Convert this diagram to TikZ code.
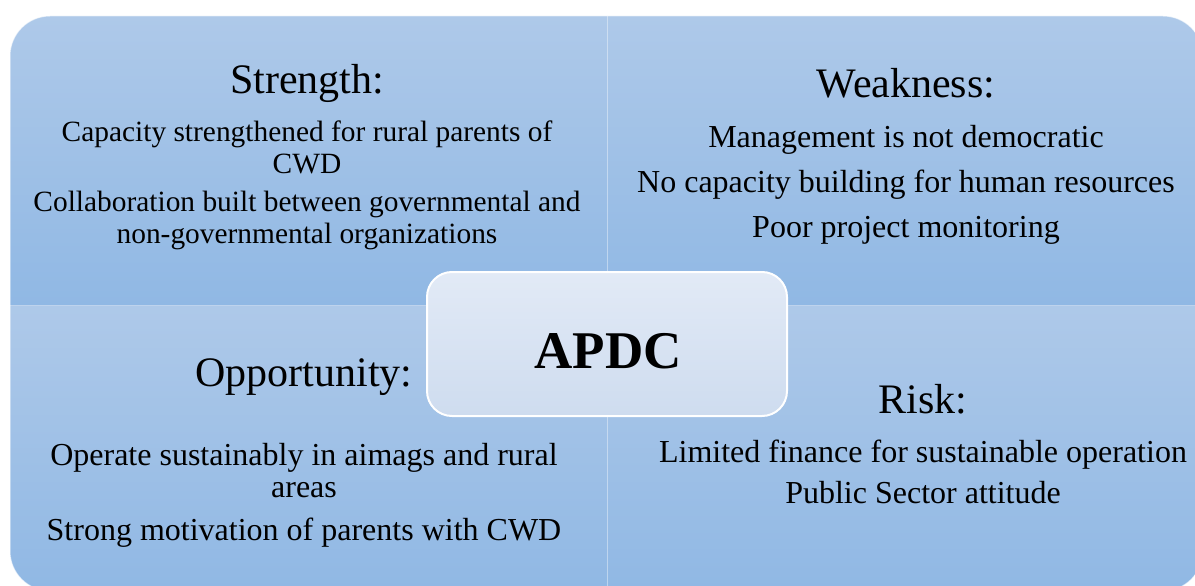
\documentclass[tikz,border=0pt]{standalone}
\usepackage{fontspec}
\setmainfont{Liberation Serif}
\definecolor{quadtop}{RGB}{174,201,233}
\definecolor{quadbot}{RGB}{144,184,228}
\definecolor{coretop}{RGB}{226,234,246}
\definecolor{corebot}{RGB}{206,220,239}
\begin{document}
\begin{tikzpicture}[x=1pt,y=-1pt,
  quad/.style={top color=quadtop, bottom color=quadbot, draw=none},
  divider/.style={draw=white, draw opacity=0.4, line width=1pt},
  head/.style={anchor=base, inner sep=0pt, font=\fontsize{42}{50}\selectfont},
  item/.style={anchor=base, inner sep=0pt, font=\fontsize{32}{38}\selectfont},
  smallitem/.style={anchor=base, inner sep=0pt, font=\fontsize{29.4}{35}\selectfont},
  corebox/.style={rounded corners=25pt, top color=coretop, bottom color=corebot,
    draw=white, line width=2pt, minimum width=360pt, minimum height=144pt},
  title/.style={anchor=base, inner sep=0pt, font=\fontsize{53}{60}\selectfont\bfseries}]
\useasboundingbox (0,0) rectangle (1195,586);

% four quadrants inside one rounded frame
\begin{scope}
  \clip[rounded corners=40pt] (10,16) rectangle (1203,591);
  \path[quad] (10,16) rectangle (607,305);
  \path[quad] (607,16) rectangle (1203,305);
  \path[quad] (10,305) rectangle (607,591);
  \path[quad] (607,305) rectangle (1203,591);
  \coordinate (vtop) at (607,16);
  \coordinate (vbot) at (607,591);
  \coordinate (hleft) at (10,305);
  \coordinate (hright) at (1203,305);
  \draw[divider] (vtop) -- (vbot);
  \draw[divider, draw opacity=0.2] (hleft) -- (hright);
\end{scope}
\draw[white, line width=1pt, opacity=0.6, rounded corners=40pt] (10,16) rectangle (1203,591);

% Strength
\node[head] (s0) at (307,93) {Strength:};
\node[smallitem] (s1) at (307,141) {Capacity strengthened for rural parents of};
\node[smallitem] (s2) at (307,173) {CWD};
\node[smallitem] (s3) at (307,211) {Collaboration built between governmental and};
\node[smallitem] (s4) at (307,243) {non-governmental organizations};

% Weakness
\node[head] (w0) at (906,97) {Weakness:};
\node[item] (w1) at (906,147) {Management is not democratic};
\node[item] (w2) at (906,192) {No capacity building for human resources};
\node[item] (w3) at (906,237) {Poor project monitoring};

% Opportunity
\node[head] (o0) at (304,386) {Opportunity:};
\node[item] (o1) at (304,465) {Operate sustainably in aimags and rural};
\node[item] (o2) at (304,497) {areas};
\node[item] (o3) at (304,540) {Strong motivation of parents with CWD};

% Risk
\node[head] (r0) at (923,413) {Risk:};
\node[item] (r1) at (923,462) {Limited finance for sustainable operation};
\node[item] (r2) at (923,503) {Public Sector attitude};

% central box
\node[corebox] (core) at (607,344) {};
\node[title] (apdc) at (608,368) {APDC};
\end{tikzpicture}
\end{document}
